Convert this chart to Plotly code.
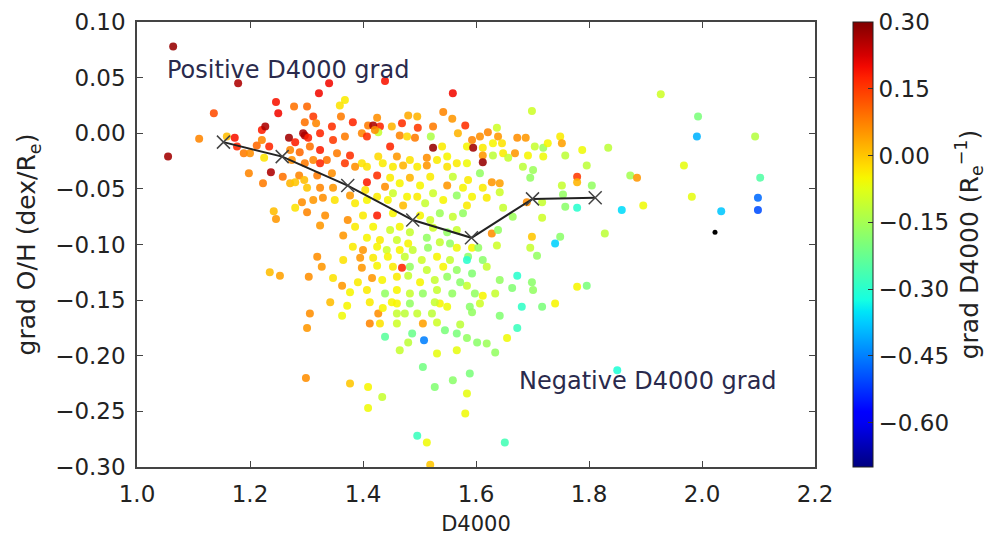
import numpy as np
import plotly.graph_objects as go

# ---- data ----
d4000 = [
    1.064, 1.179, 1.136, 1.110, 1.055, 1.246, 1.250, 1.278, 1.301, 1.221,
    1.227, 1.159, 1.173, 1.177, 1.189, 1.200, 1.212, 1.221, 1.225, 1.234,
    1.269, 1.280, 1.297, 1.306, 1.271, 1.288, 1.274, 1.297, 1.340, 1.439,
    1.322, 1.559, 1.368, 1.359, 1.312, 1.361, 1.297, 1.317, 1.382, 1.425,
    1.409, 1.430, 1.418, 1.451, 1.469, 1.480, 1.496, 1.497, 1.524, 1.542,
    1.558, 1.581, 1.568, 1.520, 1.524, 1.540, 1.584, 1.595, 1.294, 1.303,
    1.324, 1.345, 1.347, 1.368, 1.398, 1.407, 1.427, 1.421, 1.465, 1.478,
    1.492, 1.448, 1.377, 1.354, 1.324, 1.312, 1.336, 1.368, 1.398, 1.427,
    1.435, 1.460, 1.483, 1.513, 1.531, 1.549, 1.566, 1.584, 1.549, 1.699,
    1.621, 1.637, 1.607, 1.639, 1.593, 1.673, 1.688, 1.749, 1.752, 1.612,
    1.612, 1.630, 1.646, 1.704, 1.719, 1.727, 1.669, 1.648, 1.692, 1.719,
    1.758, 1.788, 1.834, 1.630, 1.657, 1.612, 1.683, 1.796, 1.701, 1.607,
    1.586, 1.628, 1.642, 1.642, 1.612, 1.593, 1.619, 1.696, 1.752, 1.754,
    1.779, 1.779, 1.805, 1.873, 1.885, 1.690, 1.717, 1.758, 1.779, 1.584,
    1.648, 1.665, 1.717, 1.828, 1.858, 1.699, 1.749, 1.628, 1.639, 1.740,
    1.696, 1.708, 1.637, 1.593, 1.604, 1.586, 1.612, 1.619, 1.593, 1.673,
    1.642, 1.699, 1.584, 1.664, 1.701, 1.779, 1.796, 1.598, 1.612, 1.634,
    1.607, 1.589, 1.681, 1.717, 1.740, 1.593, 1.642, 1.673, 1.584, 1.602,
    1.619, 1.655, 1.634, 1.589, 1.584, 1.581, 1.850, 1.651, 1.342, 1.372,
    1.306, 1.363, 1.301, 1.412, 1.427, 1.435, 1.412, 1.430, 1.460, 1.460,
    1.460, 1.474, 1.483, 1.496, 1.506, 1.522, 1.536, 1.549, 1.531, 1.545,
    1.487, 1.439, 1.480, 1.465, 1.508, 1.566, 1.572, 1.566, 1.531, 1.506,
    1.299, 1.377, 1.409, 1.434, 1.409, 1.527, 1.559, 1.496, 1.513, 1.519,
    1.198, 1.237, 1.223, 1.258, 1.287, 1.271, 1.280, 1.296, 1.301, 1.292,
    1.301, 1.280, 1.242, 1.246, 1.235, 1.253, 1.304, 1.324, 1.386, 1.407,
    1.453, 1.471, 1.496, 1.513, 1.319, 1.345, 1.407, 1.425, 1.404, 1.439,
    1.448, 1.465, 1.483, 1.501, 1.519, 1.549, 1.559, 1.577, 1.324, 1.347,
    1.312, 1.329, 1.350, 1.377, 1.386, 1.407, 1.425, 1.444, 1.453, 1.471,
    1.478, 1.496, 1.510, 1.524, 1.542, 1.566, 1.333, 1.373, 1.400, 1.425,
    1.453, 1.501, 1.519, 1.536, 1.559, 1.577, 1.324, 1.386, 1.418, 1.448,
    1.465, 1.483, 1.524, 1.549, 1.566, 1.365, 1.407, 1.430, 1.460, 1.480,
    1.513, 1.536, 1.554, 1.382, 1.400, 1.425, 1.442, 1.465, 1.488, 1.515,
    1.566, 1.584, 1.319, 1.365, 1.395, 1.418, 1.444, 1.474, 1.504, 1.531,
    1.554, 1.327, 1.398, 1.425, 1.469, 1.453, 1.483, 1.513, 1.542, 1.566,
    1.347, 1.363, 1.391, 1.416, 1.434, 1.460, 1.480, 1.501, 1.527, 1.549,
    1.572, 1.377, 1.407, 1.439, 1.460, 1.483, 1.506, 1.531, 1.558, 1.451,
    1.527, 1.927, 1.993, 1.991, 2.094, 1.968, 2.103, 1.982, 2.099, 1.896,
    2.034, 2.099,
]

grad_oh = [
    0.078, 0.045, 0.018, -0.005, -0.021, 0.028, 0.018, 0.024, 0.024, 0.003,
    0.006, -0.003, -0.004, -0.012, -0.018, -0.018, -0.011, -0.006, -0.022, -0.012,
    -0.004, -0.008, -0.002, -0.012, -0.015, -0.017, -0.024, -0.027, 0.045, 0.047,
    0.036, 0.036, 0.030, 0.025, 0.015, 0.015, 0.010, 0.009, 0.010, 0.014,
    0.007, 0.006, 0.007, 0.006, 0.009, 0.016, 0.015, 0.005, 0.006, 0.019,
    0.013, 0.007, 0.000, -0.003, -0.013, -0.012, -0.012, -0.013, 0.000, -0.004,
    0.000, 0.006, -0.006, -0.003, 0.000, -0.003, 0.001, 0.003, -0.002, -0.003,
    -0.004, -0.012, -0.020, -0.018, -0.015, -0.024, -0.024, -0.027, -0.027, -0.021,
    -0.027, -0.021, -0.024, -0.022, -0.024, -0.021, -0.027, -0.027, -0.030, 0.020,
    0.001, 0.005, -0.003, -0.003, -0.006, -0.004, -0.004, -0.003, -0.009, -0.013,
    -0.020, -0.009, -0.009, -0.012, -0.013, -0.009, -0.018, -0.018, -0.020, -0.021,
    -0.020, -0.015, -0.013, -0.020, -0.022, -0.026, -0.030, -0.029, -0.033, -0.036,
    -0.042, -0.044, -0.045, -0.053, -0.049, -0.057, -0.058, -0.040, -0.047, -0.055,
    -0.039, -0.044, -0.047, -0.038, -0.040, -0.062, -0.062, -0.066, -0.067, -0.065,
    -0.067, -0.075, -0.076, -0.090, -0.069, -0.093, -0.093, -0.090, -0.087, -0.099,
    -0.103, -0.110, -0.101, -0.103, -0.103, -0.111, -0.114, -0.120, -0.126, -0.128,
    -0.132, -0.134, -0.137, -0.139, -0.141, -0.138, -0.137, -0.144, -0.146, -0.144,
    -0.153, -0.156, -0.156, -0.156, -0.153, -0.161, -0.164, -0.175, -0.184, -0.188,
    -0.189, -0.184, -0.197, -0.216, -0.234, -0.252, -0.213, -0.278, -0.152, -0.155,
    -0.162, -0.164, -0.175, -0.152, -0.162, -0.157, -0.171, -0.171, -0.153, -0.162,
    -0.171, -0.162, -0.153, -0.162, -0.171, -0.162, -0.153, -0.156, -0.170, -0.177,
    -0.180, -0.183, -0.188, -0.195, -0.186, -0.180, -0.172, -0.195, -0.198, -0.210,
    -0.220, -0.225, -0.228, -0.237, -0.247, -0.228, -0.222, -0.272, -0.278, -0.298,
    -0.036, -0.035, -0.045, -0.039, -0.038, -0.045, -0.044, -0.042, -0.049, -0.062,
    -0.071, -0.067, -0.070, -0.077, -0.125, -0.128, -0.129, -0.027, -0.030, -0.030,
    -0.030, -0.029, -0.030, -0.029, -0.038, -0.036, -0.044, -0.038, -0.051, -0.048,
    -0.040, -0.045, -0.040, -0.047, -0.039, -0.047, -0.039, -0.049, -0.049, -0.049,
    -0.060, -0.058, -0.060, -0.056, -0.063, -0.060, -0.057, -0.060, -0.054, -0.065,
    -0.057, -0.057, -0.063, -0.054, -0.060, -0.056, -0.074, -0.078, -0.074, -0.074,
    -0.072, -0.074, -0.078, -0.072, -0.075, -0.072, -0.083, -0.084, -0.084, -0.087,
    -0.084, -0.089, -0.085, -0.089, -0.087, -0.092, -0.094, -0.096, -0.096, -0.099,
    -0.094, -0.098, -0.099, -0.102, -0.105, -0.102, -0.105, -0.105, -0.105, -0.103,
    -0.103, -0.114, -0.111, -0.114, -0.112, -0.112, -0.111, -0.111, -0.114, -0.111,
    -0.114, -0.120, -0.121, -0.119, -0.121, -0.120, -0.120, -0.123, -0.120, -0.123,
    -0.130, -0.137, -0.134, -0.130, -0.132, -0.129, -0.128, -0.134, -0.132, -0.129,
    -0.134, -0.143, -0.141, -0.144, -0.141, -0.144, -0.144, -0.141, -0.144, -0.152,
    -0.152, 0.035, 0.015, -0.003, -0.003, -0.029, -0.040, -0.057, -0.058, -0.065,
    -0.070, -0.069,
]

grad_d4000 = [
    0.28, 0.26, 0.13, 0.07, 0.27, 0.19, 0.20, 0.09, 0.10, 0.18,
    0.26, 0.01, 0.19, 0.17, 0.08, 0.06, 0.10, 0.07, -0.03, 0.17,
    0.27, 0.18, 0.26, 0.09, 0.07, 0.10, 0.06, 0.08, 0.20, 0.19,
    0.20, 0.20, -0.04, -0.03, 0.15, 0.08, 0.09, 0.07, 0.17, 0.06,
    0.08, 0.17, 0.26, 0.02, 0.16, 0.03, 0.02, 0.15, 0.08, 0.07,
    0.05, 0.16, 0.02, -0.14, 0.28, -0.04, -0.05, 0.27, 0.26, 0.18,
    0.17, 0.16, 0.15, 0.08, 0.07, 0.16, -0.11, 0.06, 0.07, -0.02,
    0.08, 0.17, 0.16, 0.08, 0.18, 0.07, 0.09, 0.15, -0.03, -0.02,
    -0.04, 0.05, -0.03, 0.06, -0.04, -0.05, -0.04, -0.06, -0.03, -0.10,
    0.07, -0.10, 0.06, 0.05, 0.07, 0.06, 0.05, -0.04, 0.04, -0.04,
    0.05, -0.05, -0.03, -0.11, -0.16, -0.05, 0.05, -0.04, -0.05, -0.06,
    -0.12, -0.06, -0.12, -0.12, -0.11, 0.28, -0.12, -0.12, -0.16, -0.17,
    -0.04, 0.05, 0.04, -0.10, -0.04, -0.05, -0.04, -0.17, -0.11, -0.17,
    0.15, 0.02, -0.17, -0.15, 0.05, 0.06, -0.11, -0.18, -0.30, -0.04,
    -0.11, -0.16, -0.10, -0.12, -0.36, 0.00, -0.18, 0.06, -0.17, -0.37,
    -0.11, -0.17, -0.10, -0.05, -0.17, -0.18, -0.18, -0.11, -0.19, -0.30,
    -0.17, -0.18, -0.11, -0.19, -0.17, -0.05, -0.20, -0.17, -0.05, -0.11,
    -0.10, -0.18, -0.29, -0.20, -0.05, -0.17, -0.19, -0.28, -0.17, -0.18,
    -0.16, -0.06, -0.17, -0.20, -0.07, -0.06, -0.31, -0.27, 0.01, -0.05,
    0.06, -0.06, 0.05, -0.04, 0.06, -0.05, 0.07, -0.03, -0.05, -0.11,
    -0.10, -0.12, -0.17, -0.11, 0.04, -0.12, -0.05, -0.06, -0.10, -0.20,
    -0.22, -0.24, -0.12, -0.11, -0.45, -0.20, -0.12, -0.07, -0.07, -0.21,
    0.06, 0.00, -0.05, -0.11, -0.06, -0.19, -0.18, -0.28, -0.06, 0.00,
    0.07, 0.26, 0.08, 0.09, 0.07, 0.02, 0.00, 0.01, 0.00, 0.06,
    0.07, -0.03, 0.01, 0.05, 0.01, 0.04, 0.06, 0.17, 0.06, -0.03,
    -0.04, 0.02, -0.04, 0.05, 0.08, 0.06, 0.18, 0.16, -0.03, 0.06,
    -0.04, -0.05, 0.02, -0.05, -0.04, 0.05, -0.11, -0.05, 0.07, 0.05,
    0.05, 0.06, -0.03, 0.05, -0.04, -0.05, -0.04, -0.05, -0.10, 0.01,
    -0.05, -0.04, -0.11, -0.10, -0.05, -0.17, 0.06, 0.06, -0.04, 0.18,
    -0.05, -0.05, -0.10, -0.16, -0.11, -0.17, 0.05, -0.04, -0.05, -0.10,
    -0.05, -0.11, -0.10, -0.17, -0.11, 0.05, -0.05, -0.04, -0.10, -0.05,
    -0.17, -0.11, -0.17, -0.04, 0.05, -0.05, -0.10, -0.05, -0.11, -0.17,
    -0.06, -0.30, 0.06, -0.03, 0.05, -0.04, -0.05, -0.11, -0.10, -0.05,
    -0.11, 0.05, 0.05, -0.05, 0.17, -0.04, -0.17, -0.11, -0.05, -0.17,
    -0.03, 0.05, -0.04, 0.05, -0.05, -0.04, -0.11, -0.05, -0.11, -0.17,
    -0.18, -0.05, -0.04, -0.17, -0.05, -0.11, -0.17, -0.11, -0.17, -0.05,
    -0.11, -0.10, -0.20, -0.40, -0.13, -0.07, -0.25, -0.07, -0.47, -0.06,
    -0.38, -0.50,
]

# binned median line
bin_d4000 = [1.153, 1.257, 1.373, 1.488, 1.592, 1.700, 1.811]
bin_grad_oh = [-0.008, -0.021, -0.047, -0.078, -0.094, -0.059, -0.058]

# stray black dots in the reference
stray_x = [2.023, 1.768]
stray_y = [-0.089, -0.343]

x_ticks = [1.0, 1.2, 1.4, 1.6, 1.8, 2.0, 2.2]
y_ticks = [0.10, 0.05, 0.00, -0.05, -0.10, -0.15, -0.20, -0.25, -0.30]
cbar_ticks = [0.30, 0.15, 0.00, -0.15, -0.30, -0.45, -0.60]
cmin, cmax = -0.70, 0.30

assert len(d4000) == len(grad_oh) == len(grad_d4000)

# matplotlib 'jet' colormap
def jet(t):
    r = np.interp(t, [0, 0.35, 0.66, 0.89, 1], [0, 0, 1, 1, 0.5])
    g = np.interp(t, [0, 0.125, 0.375, 0.64, 0.91, 1], [0, 0, 1, 1, 0, 0])
    b = np.interp(t, [0, 0.11, 0.34, 0.65, 1], [0.5, 1, 1, 0, 0])
    return "rgb(%d,%d,%d)" % (round(r * 255), round(g * 255), round(b * 255))

jet_scale = [[float(t), jet(t)] for t in np.linspace(0, 1, 41)]

TICK = 23
TITLE = 25
INK = "#222"

fig = go.Figure()
fig.add_trace(go.Scatter(
    x=d4000, y=grad_oh, mode="markers",
    marker=dict(
        size=8, color=grad_d4000, colorscale=jet_scale, cmin=cmin, cmax=cmax,
        opacity=0.88, line=dict(width=0),
        colorbar=dict(
            x=1.056, xanchor="left", xpad=0, y=0.5, yanchor="middle", ypad=0,
            len=1, lenmode="fraction", thickness=20, thicknessmode="pixels",
            outlinewidth=1, outlinecolor=INK,
            tickvals=cbar_ticks, tickformat=".2f", ticks="inside", ticklen=5,
            tickcolor="#333", tickfont=dict(size=TICK, color=INK),
            title=dict(text="grad D4000 (R<sub>e</sub><sup>−1</sup>)", side="right",
                       font=dict(size=TITLE, color=INK)),
        ),
    ),
    hoverinfo="skip",
))
fig.add_trace(go.Scatter(
    x=bin_d4000, y=bin_grad_oh, mode="lines+markers",
    line=dict(color=INK, width=2),
    marker=dict(symbol="x-thin", size=13, color="#444", line=dict(width=1.5, color="#444")),
))
fig.add_trace(go.Scatter(
    x=stray_x, y=stray_y, mode="markers", cliponaxis=False,
    marker=dict(size=5, color="black"),
))

axis_common = dict(
    showgrid=False, zeroline=False, showline=True, linecolor="#444", linewidth=1.5,
    mirror="allticks", ticks="inside", ticklen=6, tickcolor="#444",
    tickfont=dict(size=TICK, color=INK),
)
fig.update_xaxes(range=[1.0, 2.2], tickvals=x_ticks, tickformat=".1f",
                 title=dict(text="D4000", standoff=10, font=dict(size=21, color=INK)),
                 ticklabelstandoff=6, **axis_common)
fig.update_yaxes(range=[-0.30, 0.10], tickvals=y_ticks, tickformat=".2f",
                 title=dict(text="grad O/H (dex/R<sub>e</sub>)", standoff=12,
                            font=dict(size=TITLE, color=INK)),
                 ticklabelstandoff=5, **axis_common)

fig.add_annotation(x=1.05, y=0.057, xref="x", yref="y", text="Positive D4000 grad",
                   showarrow=False, xanchor="left", yanchor="middle",
                   font=dict(size=24, color="#2a2a4c", family="DejaVu Sans"))
fig.add_annotation(x=1.673, y=-0.223, xref="x", yref="y", text="Negative D4000 grad",
                   showarrow=False, xanchor="left", yanchor="middle",
                   font=dict(size=24, color="#2a2a4c", family="DejaVu Sans"))

fig.update_layout(
    width=998, height=547,
    margin=dict(l=137, r=183, t=22, b=80, autoexpand=False),
    plot_bgcolor="white", paper_bgcolor="white",
    font=dict(family="DejaVu Sans", size=TICK, color=INK),
    showlegend=False,
)

fig.write_html("out.html")
